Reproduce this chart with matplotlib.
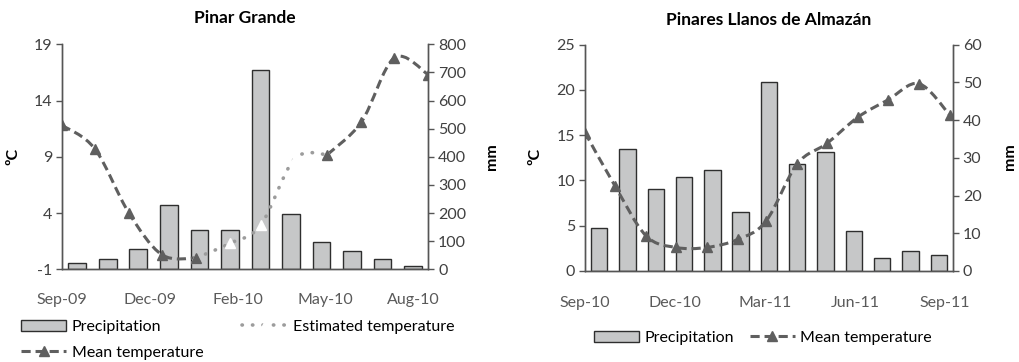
import numpy as np
import pandas as pd
import matplotlib
matplotlib.use("Agg")
import matplotlib.pyplot as plt
import matplotlib.dates as mdates
from matplotlib.path import Path
from matplotlib.patches import PathPatch, Patch
from matplotlib.lines import Line2D

plt.rcParams["font.family"] = ["Lato", "DejaVu Sans"]
plt.rcParams["axes.unicode_minus"] = False

nan = np.nan

# Pinar Grande
months_pg = ["Sep-09", "Oct-09", "Nov-09", "Dec-09", "Jan-10", "Feb-10",
             "Mar-10", "Apr-10", "May-10", "Jun-10", "Jul-10", "Aug-10"]
precip_pg = [24, 38, 71, 230, 139, 139, 710, 198, 97, 65, 38, 13]
mean_pg = [11.8, 9.7, 4.0, 0.3, 0.0, nan, nan, nan, 9.2, 12.1, 17.8, 16.3]
est_pg = [nan, nan, nan, nan, 0.0, 1.3, 2.9, 8.8, 9.2, nan, nan, nan]
xticks_pg = ["Sep-09", "Dec-09", "Feb-10", "May-10", "Aug-10"]

# Pinares Llanos de Almazán
months_pl = ["Sep-10", "Oct-10", "Nov-10", "Dec-10", "Jan-11", "Feb-11", "Mar-11",
             "Apr-11", "May-11", "Jun-11", "Jul-11", "Aug-11", "Sep-11"]
precip_pl = [11.3, 32.4, 21.7, 24.8, 26.8, 15.7, 50.0, 28.5, 31.6, 10.6, 3.4, 5.4, 4.3]
mean_pl = [15.3, 9.4, 3.9, 2.6, 2.6, 3.5, 5.5, 11.8, 14.1, 17.0, 18.9, 20.7, 17.2]
xticks_pl = ["Sep-10", "Dec-10", "Mar-11", "Jun-11", "Sep-11"]

BAR = "#c6c7c8"
EDGE = "#2e2e2e"
DARK = "#5f5f5f"
LIGHT = "#9c9c9c"
AXC = "#555555"
DASH = (0, (3, 1.6))
DOTS = (0, (0.1, 2.8))
FS = 11.5


def to_x(months):
    d = pd.to_datetime(months, format="%b-%y") + pd.Timedelta(days=14)
    return mdates.date2num(d)


def smooth_path(x, y):
    x = np.asarray(x, float)
    y = np.asarray(y, float)
    idx = np.where(~np.isnan(y))[0]
    runs = np.split(idx, np.where(np.diff(idx) > 1)[0] + 1)
    verts, codes = [], []
    for run in runs:
        px, py = x[run], y[run]
        n = len(px)
        verts.append((px[0], py[0]))
        codes.append(Path.MOVETO)
        for i in range(n - 1):
            a = max(i - 1, 0)
            b = min(i + 2, n - 1)
            c1 = (px[i] + (px[i + 1] - px[a]) / 6, py[i] + (py[i + 1] - py[a]) / 6)
            c2 = (px[i + 1] - (px[b] - px[i]) / 6, py[i + 1] - (py[b] - py[i]) / 6)
            verts += [c1, c2, (px[i + 1], py[i + 1])]
            codes += [Path.CURVE4] * 3
    return Path(verts, codes)


def style_axes(ax, ax2):
    ax.set_zorder(ax2.get_zorder() + 1)
    ax.patch.set_visible(False)
    for a in (ax, ax2):
        a.spines["top"].set_visible(False)
        for s in ("left", "right", "bottom"):
            a.spines[s].set_color(AXC)
            a.spines[s].set_linewidth(1.0)
    ax.tick_params(axis="y", direction="out", length=4, width=1, color=AXC,
                   labelsize=FS, labelcolor="#404040", pad=3)
    ax2.tick_params(axis="y", direction="out", length=4, width=1, color=AXC,
                    labelsize=FS, labelcolor="#404040", pad=3)
    ax.tick_params(axis="x", length=0, labelsize=FS, labelcolor="#5a5a5a", pad=17)


fig = plt.figure(figsize=(10.2, 3.62), dpi=100)

# ---- Pinar Grande
ax = fig.add_axes([0.0608, 0.2561, 0.3591, 0.6215])
ax2 = ax.twinx()
x = to_x(months_pg)
x0, x1 = x[0], x[-1]
slot = (x1 - x0) / len(x)
centers = x0 + (np.arange(len(x)) + 0.5) * slot
ax2.bar(centers, precip_pg, width=0.58 * slot, color=BAR, edgecolor=EDGE, linewidth=1)
ax2.set_ylim(0, 800)
ax2.set_yticks(np.arange(0, 801, 100))
ax.add_patch(PathPatch(smooth_path(x, est_pg), fill=False, edgecolor=LIGHT, lw=2.6,
                       linestyle=DOTS, capstyle="round"))
ax.plot(x, est_pg, ls="none", marker="^", ms=7, mfc="white", mec="white")
ax.add_patch(PathPatch(smooth_path(x, mean_pg), fill=False, edgecolor=DARK, lw=2.2,
                       linestyle=DASH, capstyle="butt"))
ax.plot(x, mean_pg, ls="none", marker="^", ms=7, color=DARK)
ax.set_xlim(x0, x1)
ax.set_ylim(-1, 19)
ax.set_yticks([-1, 4, 9, 14, 19])
ax.set_xticks(x0 + 80 * np.arange(len(xticks_pg)))
ax.set_xticklabels(xticks_pg)
style_axes(ax, ax2)
ax.set_title("Pinar Grande", fontsize=12.5, fontweight="bold", pad=15)
fig.text(0.013, 0.567, "ºC", rotation=90, fontsize=FS, fontweight="bold",
         ha="center", va="center")
fig.text(0.482, 0.567, "mm", rotation=90, fontsize=FS, fontweight="bold",
         ha="center", va="center")

h_p = Patch(facecolor=BAR, edgecolor=EDGE, lw=1)
h_m = Line2D([], [], color=DARK, lw=2.2, ls=DASH, marker="^", ms=7)
h_e = Line2D([], [], color=LIGHT, lw=2.6, ls=DOTS, dash_capstyle="round",
             marker="^", ms=7, mfc="white", mec="white")
fig.legend([h_p, h_m, h_e], ["Precipitation", "Mean temperature", "Estimated temperature"],
           ncol=2, loc="upper left", bbox_to_anchor=(0.021, 0.117), frameon=False,
           fontsize=FS, handlelength=2.8, handletextpad=0.35, columnspacing=2.45,
           labelspacing=0.75, numpoints=1, borderpad=0, borderaxespad=0)

# ---- Pinares Llanos de Almazán
bx = fig.add_axes([0.5735, 0.2514, 0.3608, 0.6251])
bx2 = bx.twinx()
x = to_x(months_pl)
x0, x1 = x[0], x[-1] + 3
slot = (x1 - x0) / len(x)
centers = x0 + (np.arange(len(x)) + 0.5) * slot
bx2.bar(centers, precip_pl, width=0.58 * slot, color=BAR, edgecolor=EDGE, linewidth=1)
bx2.set_ylim(0, 60)
bx2.set_yticks(np.arange(0, 61, 10))
bx.add_patch(PathPatch(smooth_path(x, mean_pl), fill=False, edgecolor=DARK, lw=2.2,
                       linestyle=DASH, capstyle="butt"))
bx.plot(x, mean_pl, ls="none", marker="^", ms=7, color=DARK)
bx.set_xlim(x0, x1)
bx.set_ylim(0, 25)
bx.set_yticks(np.arange(0, 26, 5))
bx.set_xticks(x[0] + 90 * np.arange(len(xticks_pl)))
bx.set_xticklabels(xticks_pl)
style_axes(bx, bx2)
bx.tick_params(axis="x", pad=18)
bx.set_title("Pinares Llanos de Almazán", fontsize=12.5, fontweight="bold", pad=14)
fig.text(0.525, 0.567, "ºC", rotation=90, fontsize=FS, fontweight="bold",
         ha="center", va="center")
fig.text(0.99, 0.567, "mm", rotation=90, fontsize=FS, fontweight="bold",
         ha="center", va="center")
h_m2 = Line2D([], [], color=DARK, lw=2.2, ls=DASH, marker="^", ms=7)
fig.legend([h_p, h_m2], ["Precipitation", "Mean temperature"], ncol=2,
           loc="center", bbox_to_anchor=(0.748, 0.067), frameon=False,
           fontsize=FS, handlelength=2.8, handletextpad=0.35, columnspacing=1.0,
           numpoints=1, borderpad=0, borderaxespad=0)

fig.savefig("out.png", dpi=100)
